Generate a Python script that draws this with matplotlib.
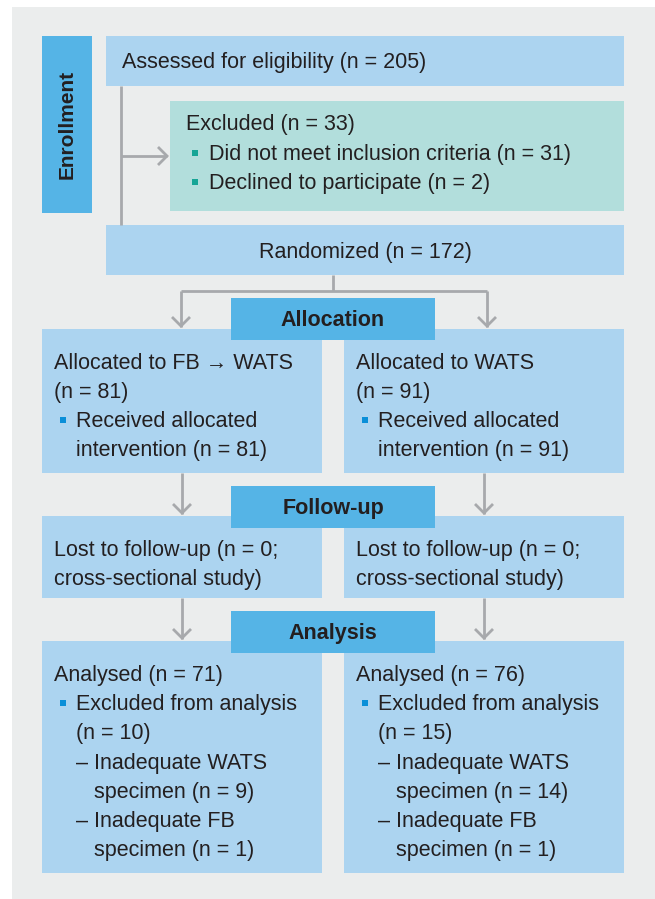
import matplotlib.pyplot as plt
from matplotlib.patches import Rectangle

plt.rcParams['font.family'] = ['Liberation Sans Narrow', 'Liberation Sans', 'DejaVu Sans']

# texts of the flow chart
stage_labels = ['Enrollment', 'Allocation', 'Follow-up', 'Analysis']
assessed_text = 'Assessed for eligibility (n = 205)'
excluded_title = 'Excluded (n = 33)'
excluded_items = ['Did not meet inclusion criteria (n = 31)', 'Declined to participate (n = 2)']
randomized_text = 'Randomized (n = 172)'
alloc_head = [['Allocated to FB \u2192 WATS', '(n = 81)'], ['Allocated to WATS', '(n = 91)']]
alloc_item = [['Received allocated', 'intervention (n = 81)'], ['Received allocated', 'intervention (n = 91)']]
follow_text = [['Lost to follow-up (n = 0;', 'cross-sectional study)'],
               ['Lost to follow-up (n = 0;', 'cross-sectional study)']]
analysed_head = ['Analysed (n = 71)', 'Analysed (n = 76)']
analysed_item = [['Excluded from analysis', '(n = 10)'], ['Excluded from analysis', '(n = 15)']]
analysed_sub = [[['Inadequate WATS', 'specimen (n = 9)'], ['Inadequate FB', 'specimen (n = 1)']],
                [['Inadequate WATS', 'specimen (n = 14)'], ['Inadequate FB', 'specimen (n = 1)']]]

PANEL = '#EBEDED'
BOX = '#ACD4F0'
LABEL = '#55B4E6'
EXCL = '#B2DEDC'
LINE = '#A7A9AC'
TXT = '#231F20'
TEAL = '#16A596'
BLUE = '#0A8FD8'
FS = 15.5
DY = 2.5  # small shift so the text sits like in the original

fig = plt.figure(figsize=(6.55, 8.99), dpi=100)
ax = fig.add_axes([0, 0, 1, 1])
ax.set_xlim(0, 655)
ax.set_ylim(899, 0)
ax.axis('off')


def box(x0, y0, x1, y1, color, z=1):
    ax.add_patch(Rectangle((x0, y0), x1 - x0, y1 - y0, facecolor=color, edgecolor='none', zorder=z))


def txt(x, y, s, **kw):
    kw.setdefault('ha', 'left')
    ax.text(x, y + DY, s, va='center', fontsize=kw.pop('fs', FS), color=TXT, zorder=5, **kw)


def bullet(x, y, color):
    ax.add_patch(Rectangle((x - 3, y - 3), 6, 6, facecolor=color, edgecolor='none', zorder=5))


def line(xs, ys):
    ax.plot(xs, ys, color=LINE, lw=2, solid_capstyle='butt', solid_joinstyle='miter', zorder=2)


def arrow_down(x, y0, y1):
    line([x, x], [y0, y1])
    line([x - 9, x, x + 9], [y1 - 10, y1 - 1, y1 - 10])


box(12, 7, 655, 899, PANEL, z=0)

# enrollment
box(42, 36, 92, 213, LABEL)
ax.text(67, 124, stage_labels[0], ha='center', va='center', rotation=90, fontweight='bold',
        fontsize=15, color=TXT, zorder=5)
box(106, 36, 624, 86, BOX)
txt(122, 60, assessed_text)
line([121, 121], [86, 225])
line([121, 167], [156, 156])
line([158, 167, 158], [147, 156, 165])
box(170, 101, 624, 211, EXCL)
txt(186, 122, excluded_title)
for i, item in enumerate(excluded_items):
    bullet(195, 153 + 29 * i, TEAL)
    txt(209, 152 + 29 * i, item)
box(106, 225, 624, 275, BOX)
txt(365, 250, randomized_text, ha='center')

# allocation
line([333, 333], [275, 291])
line([181, 487], [291, 291])
lefts = [42, 344]
for k, x0 in enumerate(lefts):
    xc = [181, 487][k]
    arrow_down(xc, 291, 327)
    box(x0, 329, x0 + 280, 473, BOX)
    txt(x0 + 12, 361, alloc_head[k][0])
    txt(x0 + 12, 390, alloc_head[k][1])
    bullet(x0 + 21, 420, BLUE)
    txt(x0 + 34, 419, alloc_item[k][0])
    txt(x0 + 34, 448, alloc_item[k][1])
box(231, 298, 435, 340, LABEL, z=3)
txt(333, 318, stage_labels[1], ha='center', fontweight='bold')

# follow-up
for k, x0 in enumerate(lefts):
    xc = x0 + 140
    arrow_down(xc, 473, 514)
    box(x0, 516, x0 + 280, 598, BOX)
    txt(x0 + 12, 548, follow_text[k][0])
    txt(x0 + 12, 577, follow_text[k][1])
box(231, 486, 435, 528, LABEL, z=3)
txt(333, 506, stage_labels[2], ha='center', fontweight='bold')

# analysis
for k, x0 in enumerate(lefts):
    xc = x0 + 140
    arrow_down(xc, 598, 639)
    box(x0, 641, x0 + 280, 873, BOX)
    txt(x0 + 12, 673, analysed_head[k])
    bullet(x0 + 21, 703, BLUE)
    txt(x0 + 34, 702, analysed_item[k][0])
    txt(x0 + 34, 731, analysed_item[k][1])
    for j, sub in enumerate(analysed_sub[k]):
        y = 761 + 58 * j
        txt(x0 + 34, y, '\u2013')
        txt(x0 + 52, y, sub[0])
        txt(x0 + 52, y + 29, sub[1])
box(231, 611, 435, 653, LABEL, z=3)
txt(333, 631, stage_labels[3], ha='center', fontweight='bold')

fig.savefig('out.png', dpi=100)
